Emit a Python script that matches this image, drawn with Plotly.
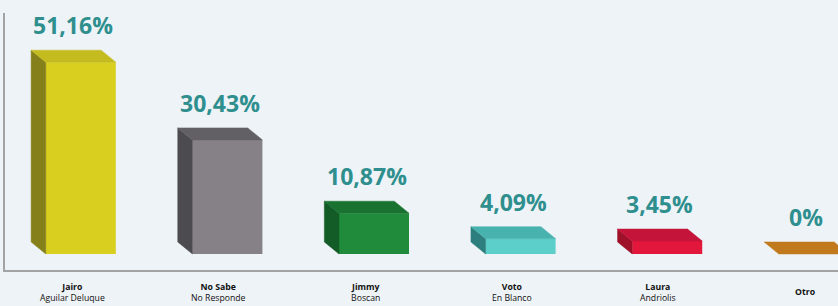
import plotly.graph_objects as go

# ---- data ----
names_line1 = ["Jairo", "No Sabe", "Jimmy", "Voto", "Laura", "Otro"]
names_line2 = ["Aguilar Deluque", "No Responde", "Boscan", "En Blanco", "Andriolis", ""]
values = [51.16, 30.43, 10.87, 4.09, 3.45, 0]
value_labels = ["51,16%", "30,43%", "10,87%", "4,09%", "3,45%", "0%"]

# ---- styles ----
front_colors = ["#d9cf1f", "#858186", "#1f8b3b", "#5ccfca", "#e3173b", "#c27a1e"]
side_colors = ["#86801b", "#4c4b50", "#145c27", "#2c7f7d", "#9e1128", "#a8661a"]
top_colors = ["#c4bb1f", "#626065", "#1a7231", "#48b3ae", "#c5143a", "#c07a1d"]
BG = "#eef3f7"
TEAL = "#2e8f8e"

FRONT_W = 0.4775   # width of front face (x units)
OFFSET = 0.06      # front face offset from category centre
DX = -0.1          # depth offset in x
DY = 3.2           # depth offset in y

fig = go.Figure()
xs = list(range(len(values)))

fig.add_trace(go.Bar(
    x=[i + OFFSET for i in xs], y=values, width=FRONT_W,
    marker=dict(color=front_colors, line=dict(width=0)),
    hoverinfo="skip",
))

for i, v in enumerate(values):
    xl = i + OFFSET - FRONT_W / 2
    xr = xl + FRONT_W
    if v > 0:
        fig.add_trace(go.Scatter(
            x=[xl, xl, xl + DX, xl + DX, xl], y=[0, v, v + DY, DY, 0],
            fill="toself", fillcolor=side_colors[i], mode="lines",
            line=dict(width=0.5, color=side_colors[i]), hoverinfo="skip",
        ))
    fig.add_trace(go.Scatter(
        x=[xl, xr, xr + DX, xl + DX, xl], y=[v, v, v + DY, v + DY, v],
        fill="toself", fillcolor=top_colors[i], mode="lines",
        line=dict(width=0.5, color=top_colors[i]), hoverinfo="skip",
    ))
    fig.add_annotation(
        x=i + OFFSET + DX / 2, y=v + DY, text=value_labels[i],
        showarrow=False, yanchor="middle", yshift=25,
        font=dict(family="Open Sans", size=23, color=TEAL, weight=700),
    )
    label = "<b>" + names_line1[i] + "</b>"
    if names_line2[i]:
        label += "<br>" + names_line2[i]
    fig.add_annotation(
        x=i, y=-0.086, xref="x", yref="paper", text=label,
        showarrow=False, yanchor="middle", xanchor="center",
        font=dict(family="Open Sans", size=8.7, color="#111111"),
    )

fig.update_layout(
    width=838, height=306,
    margin=dict(l=5, r=0, t=13, b=36),
    paper_bgcolor=BG, plot_bgcolor=BG,
    showlegend=False,
    xaxis=dict(range=[-0.457, 5.225], showgrid=False, zeroline=False,
               showline=True, linecolor="#a3a3a3", linewidth=2,
               showticklabels=False, ticks=""),
    yaxis=dict(range=[-4.27, 64.27], showgrid=False, zeroline=False,
               showline=True, linecolor="#a3a3a3", linewidth=2,
               showticklabels=False, ticks=""),
)

fig.write_html(
    "out.html",
    config={"displayModeBar": False},
    post_script="document.body.style.margin='0';document.body.style.background='" + BG + "';",
)
